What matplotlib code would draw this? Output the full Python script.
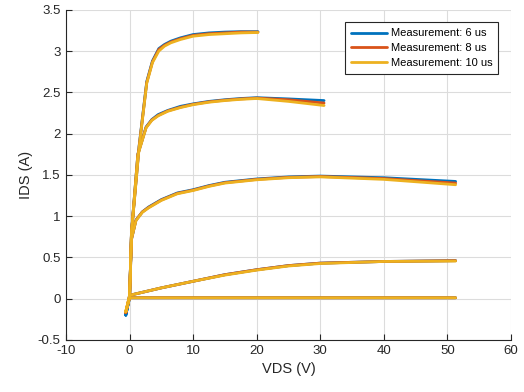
import matplotlib
matplotlib.use("Agg")
import matplotlib.pyplot as plt

# Output characteristics IDS(VDS) for five gate-voltage steps, measured with
# three pulse widths. Sweep voltages are shared; currents differ per pulse width.
vds_c1 = [-0.6, 0.0, 0.3, 1.5, 2.7, 3.6, 4.6, 5.5, 6.5, 8.0, 10.0, 12.5, 15.0, 17.5, 20.2]
vds_c2 = [-0.6, 0.0, 0.3, 1.3, 2.6, 3.5, 4.5, 6.0, 8.0, 10.0, 12.5, 15.0, 17.5, 20.0, 25.0, 30.6]
vds_c3 = [-0.6, 0.0, 0.3, 1.0, 2.0, 3.0, 5.0, 7.5, 10.0, 12.5, 15.0, 20.0, 25.0, 30.0, 40.0, 51.3]
vds_c4 = [-0.6, 0.0, 5.0, 10.0, 15.0, 20.0, 25.0, 30.0, 40.0, 51.3]
vds_c5 = [-0.6, 0.0, 10.0, 20.0, 30.0, 40.0, 51.3]

ids_6us_c1 = [-0.20, 0.02, 0.80, 1.85, 2.63, 2.88, 3.03, 3.08, 3.12, 3.16, 3.20, 3.22, 3.23, 3.235, 3.235]
ids_8us_c1 = [-0.17, 0.02, 0.80, 1.84, 2.62, 2.87, 3.02, 3.07, 3.11, 3.15, 3.19, 3.21, 3.22, 3.23, 3.23]
ids_10us_c1 = [-0.16, 0.02, 0.80, 1.83, 2.61, 2.86, 3.00, 3.06, 3.10, 3.14, 3.18, 3.20, 3.21, 3.22, 3.225]

ids_6us_c2 = [-0.20, 0.02, 0.80, 1.75, 2.08, 2.17, 2.23, 2.28, 2.33, 2.36, 2.39, 2.41, 2.425, 2.435, 2.42, 2.40]
ids_8us_c2 = [-0.17, 0.02, 0.80, 1.75, 2.075, 2.165, 2.22, 2.275, 2.32, 2.355, 2.385, 2.405, 2.42, 2.43, 2.41, 2.37]
ids_10us_c2 = [-0.16, 0.02, 0.80, 1.74, 2.07, 2.16, 2.215, 2.27, 2.315, 2.35, 2.38, 2.40, 2.415, 2.425, 2.39, 2.34]

ids_6us_c3 = [-0.20, 0.02, 0.72, 0.95, 1.05, 1.11, 1.20, 1.28, 1.32, 1.37, 1.41, 1.45, 1.475, 1.485, 1.465, 1.42]
ids_8us_c3 = [-0.17, 0.02, 0.72, 0.95, 1.05, 1.105, 1.195, 1.275, 1.315, 1.365, 1.405, 1.445, 1.47, 1.48, 1.455, 1.40]
ids_10us_c3 = [-0.16, 0.02, 0.72, 0.945, 1.045, 1.10, 1.19, 1.27, 1.31, 1.36, 1.40, 1.44, 1.465, 1.475, 1.445, 1.38]

ids_6us_c4 = [-0.20, 0.04, 0.13, 0.21, 0.29, 0.35, 0.40, 0.43, 0.45, 0.46]
ids_8us_c4 = [-0.17, 0.04, 0.13, 0.21, 0.29, 0.35, 0.40, 0.43, 0.45, 0.46]
ids_10us_c4 = [-0.16, 0.04, 0.13, 0.21, 0.285, 0.345, 0.395, 0.425, 0.45, 0.455]

ids_6us_c5 = [-0.20, 0.01, 0.01, 0.01, 0.01, 0.01, 0.01]
ids_8us_c5 = [-0.17, 0.01, 0.01, 0.01, 0.01, 0.01, 0.01]
ids_10us_c5 = [-0.16, 0.01, 0.01, 0.01, 0.01, 0.01, 0.01]

labels = ["Measurement: 6 us", "Measurement: 8 us", "Measurement: 10 us"]
colors = ["#0072BD", "#D95319", "#EDB120"]
x_ticks = [-10, 0, 10, 20, 30, 40, 50, 60]
y_ticks = [-0.5, 0, 0.5, 1, 1.5, 2, 2.5, 3, 3.5]

vds_sets = [vds_c1, vds_c2, vds_c3, vds_c4, vds_c5]
ids_sets = [
    [ids_6us_c1, ids_6us_c2, ids_6us_c3, ids_6us_c4, ids_6us_c5],
    [ids_8us_c1, ids_8us_c2, ids_8us_c3, ids_8us_c4, ids_8us_c5],
    [ids_10us_c1, ids_10us_c2, ids_10us_c3, ids_10us_c4, ids_10us_c5],
]

plt.rcParams["font.family"] = ["Liberation Sans", "DejaVu Sans"]
plt.rcParams["axes.unicode_minus"] = False
axis_gray = "#262626"

fig = plt.figure(figsize=(5.24, 3.92), dpi=100)
ax = fig.add_axes([0.126, 0.133, 0.849, 0.842])

for label, color, curves in zip(labels, colors, ids_sets):
    for i, (vds, ids) in enumerate(zip(vds_sets, curves)):
        ax.plot(vds, ids, color=color, lw=2.0, solid_joinstyle="round",
                solid_capstyle="round",
                label=label if i == 0 else None, zorder=3)

ax.set_xlim(-10, 60)
ax.set_ylim(-0.5, 3.5)
ax.set_xticks(x_ticks)
ax.set_yticks(y_ticks)
ax.set_xticklabels([f"{v:g}" for v in x_ticks])
ax.set_yticklabels([f"{v:g}" for v in y_ticks])
ax.grid(True, color="#dcdcdc", lw=0.8, zorder=0)
ax.set_axisbelow(True)

for side in ("top", "right"):
    ax.spines[side].set_visible(False)
for side in ("left", "bottom"):
    ax.spines[side].set_color(axis_gray)
    ax.spines[side].set_linewidth(0.8)
ax.tick_params(direction="in", length=4, width=0.8, colors=axis_gray,
               labelsize=9.5, pad=4)

ax.set_xlabel("VDS (V)", fontsize=10.5, color=axis_gray, labelpad=3)
ax.set_ylabel("IDS (A)", fontsize=10.5, color=axis_gray, labelpad=3)

leg = ax.legend(loc="upper right", bbox_to_anchor=(0.972, 0.962), fontsize=8,
                frameon=True, fancybox=False, framealpha=1, edgecolor="#262626",
                handlelength=3.3, handletextpad=0.3, borderpad=0.55,
                labelspacing=0.42, borderaxespad=0.0)
leg.get_frame().set_linewidth(0.8)

fig.savefig("out.png", dpi=100)
